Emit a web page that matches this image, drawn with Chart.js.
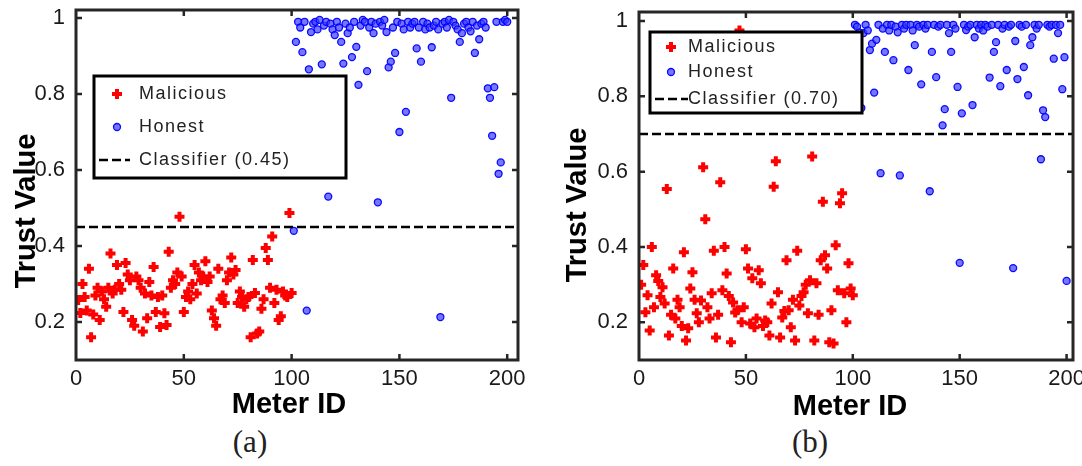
<!DOCTYPE html>
<html>
<head>
<meta charset="utf-8">
<script src="https://cdn.jsdelivr.net/npm/chart.js@4.4.0/dist/chart.umd.min.js"></script>
<style>
  body { margin: 0; background: #fff; width: 1082px; height: 466px; overflow: hidden; position: relative; }
  .panel { position: absolute; top: 0; height: 420px; }
  #wrapA { left: 0; width: 545px; }
  #wrapB { left: 555px; width: 527px; }
  .cap { position: absolute; top: 424px; width: 80px; text-align: center; font-family: "Liberation Serif", "Times New Roman", serif; font-size: 31px; color: #222; }
</style>
</head>
<body>
<div class="panel" id="wrapA"><canvas id="chartA" width="545" height="420"></canvas></div>
<div class="panel" id="wrapB"><canvas id="chartB" width="527" height="420"></canvas></div>
<div class="cap" style="left:210px">(a)</div>
<div class="cap" style="left:770px">(b)</div>
<script>
// tick labels
const xTicks = [0, 50, 100, 150, 200];
const yTicks = [0.2, 0.4, 0.6, 0.8, 1];

// panel (a): meters 1-100 malicious, 101-200 honest
const maliciousA = [
  0.258, 0.224, 0.30, 0.266, 0.23, 0.34, 0.16, 0.22, 0.27, 0.29,
  0.205, 0.28, 0.26, 0.24, 0.29, 0.38, 0.275, 0.285, 0.35, 0.30,
  0.285, 0.226, 0.355, 0.325, 0.31, 0.205, 0.19, 0.32, 0.31, 0.29,
  0.175, 0.275, 0.21, 0.305, 0.27, 0.345, 0.226, 0.266, 0.187, 0.27,
  0.223, 0.192, 0.385, 0.29, 0.31, 0.30, 0.33, 0.477, 0.32, 0.226,
  0.266, 0.28, 0.26, 0.30, 0.35, 0.275, 0.33, 0.31, 0.32, 0.36,
  0.305, 0.32, 0.23, 0.21, 0.19, 0.34, 0.26, 0.27, 0.25, 0.31,
  0.33, 0.37, 0.325, 0.337, 0.25, 0.28, 0.266, 0.24, 0.26, 0.266,
  0.16, 0.363, 0.276, 0.17, 0.175, 0.235, 0.26, 0.395, 0.363, 0.29,
  0.425, 0.25, 0.285, 0.205, 0.215, 0.28, 0.27, 0.266, 0.487, 0.276
];
const honestA = [
  0.44, 0.937, 0.99, 0.975, 0.91, 0.99, 0.23, 0.865, 0.963, 0.985,
  0.99, 0.97, 0.995, 0.878, 0.98, 0.99, 0.53, 0.985, 0.97, 0.955,
  0.99, 0.975, 0.937, 0.88, 0.985, 0.96, 0.975, 0.897, 0.99, 0.924,
  0.824, 0.98, 0.995, 0.99, 0.86, 0.975, 0.99, 0.96, 0.985, 0.515,
  0.99, 0.98, 0.995, 0.963, 0.87, 0.885, 0.975, 0.908, 0.99, 0.70,
  0.985, 0.97, 0.753, 0.99, 0.975, 0.985, 0.99, 0.92, 0.975, 0.885,
  0.99, 0.97, 0.985, 0.975, 0.923, 0.98, 0.99, 0.97, 0.213, 0.985,
  0.99, 0.975, 0.995, 0.79, 0.99, 0.98, 0.97, 0.937, 0.96, 0.985,
  0.99, 0.975, 0.965, 0.99, 0.908, 0.98, 0.944, 0.985, 0.99, 0.975,
  0.815, 0.79, 0.69, 0.818, 0.99, 0.59, 0.62, 0.99, 0.995, 0.99
];

// panel (b)
const maliciousB = [
  0.30, 0.352, 0.227, 0.272, 0.178, 0.40, 0.24, 0.325, 0.31, 0.267,
  0.293, 0.25, 0.554, 0.165, 0.22, 0.343, 0.21, 0.26, 0.24, 0.19,
  0.386, 0.152, 0.184, 0.29, 0.333, 0.26, 0.224, 0.20, 0.258, 0.612,
  0.474, 0.24, 0.21, 0.277, 0.39, 0.16, 0.22, 0.572, 0.285, 0.40,
  0.33, 0.27, 0.147, 0.253, 0.226, 0.232, 0.975, 0.20, 0.24, 0.394,
  0.343, 0.197, 0.317, 0.187, 0.21, 0.338, 0.304, 0.19, 0.205, 0.20,
  0.165, 0.25, 0.56, 0.628, 0.28, 0.16, 0.213, 0.23, 0.365, 0.232,
  0.187, 0.26, 0.152, 0.39, 0.245, 0.27, 0.28, 0.30, 0.224, 0.312,
  0.64, 0.152, 0.304, 0.22, 0.365, 0.52, 0.378, 0.343, 0.147, 0.232,
  0.144, 0.405, 0.285, 0.516, 0.543, 0.277, 0.20, 0.357, 0.29, 0.272
];
const honestB = [
  0.99, 0.985, 0.97, 0.769, 0.968, 0.99, 0.975, 0.923, 0.94, 0.81,
  0.95, 0.99, 0.596, 0.98, 0.918, 0.99, 0.975, 0.99, 0.896, 0.985,
  0.97, 0.59, 0.99, 0.98, 0.99, 0.87, 0.99, 0.975, 0.936, 0.99,
  0.985, 0.832, 0.99, 0.98, 0.99, 0.548, 0.918, 0.99, 0.851, 0.985,
  0.99, 0.723, 0.766, 0.99, 0.968, 0.918, 0.99, 0.98, 0.825, 0.358,
  0.755, 0.99, 0.976, 0.985, 0.99, 0.777, 0.957, 0.99, 0.98, 0.99,
  0.975, 0.99, 0.985, 0.85, 0.99, 0.918, 0.944, 0.99, 0.827, 0.98,
  0.99, 0.87, 0.985, 0.99, 0.344, 0.947, 0.846, 0.99, 0.985, 0.878,
  0.99, 0.803, 0.936, 0.957, 0.99, 0.98, 0.99, 0.633, 0.763, 0.745,
  0.99, 0.985, 0.99, 0.9, 0.99, 0.968, 0.99, 0.819, 0.904, 0.31
];

const thresholdA = 0.45;
const thresholdB = 0.70;

const FONT = '"Liberation Sans", Arial, Helvetica, sans-serif';
const RED = '#ff0000';
const DOT_FILL = 'rgba(60,60,255,0.7)';
const DOT_LINE = 'rgba(0,0,255,0.95)';

function drawCross(ctx, x, y) {
  ctx.save();
  ctx.strokeStyle = RED;
  ctx.lineWidth = 4;
  ctx.beginPath();
  ctx.moveTo(x - 5, y); ctx.lineTo(x + 5, y);
  ctx.moveTo(x, y - 5); ctx.lineTo(x, y + 5);
  ctx.stroke();
  ctx.restore();
}

function drawDot(ctx, x, y) {
  ctx.save();
  ctx.beginPath();
  ctx.arc(x, y, 3.5, 0, Math.PI * 2);
  ctx.fillStyle = DOT_FILL;
  ctx.fill();
  ctx.lineWidth = 1.3;
  ctx.strokeStyle = DOT_LINE;
  ctx.stroke();
  ctx.restore();
}

// frame, inward ticks, legend box and axis titles
const decorPlugin = {
  id: 'decor',
  afterDatasetsDraw(chart, args, o) {
    const { ctx, chartArea: a, scales: { x, y } } = chart;
    ctx.save();
    ctx.strokeStyle = '#262626';
    ctx.lineWidth = 2.5;
    ctx.beginPath();
    xTicks.forEach(v => {
      const px = x.getPixelForValue(v);
      if (px < a.left + 3 || px > a.right - 3) return;
      ctx.moveTo(px, a.bottom); ctx.lineTo(px, a.bottom - 6);
      ctx.moveTo(px, a.top); ctx.lineTo(px, a.top + 6);
    });
    yTicks.forEach(v => {
      const py = y.getPixelForValue(v);
      ctx.moveTo(a.left, py); ctx.lineTo(a.left + 6, py);
      ctx.moveTo(a.right, py); ctx.lineTo(a.right - 6, py);
    });
    ctx.stroke();
    ctx.lineWidth = 3;
    ctx.strokeRect(a.left, a.top, a.right - a.left, a.bottom - a.top);

    // legend
    const L = o.legend;
    ctx.fillStyle = '#fff';
    ctx.fillRect(L.x, L.y, L.w, L.h);
    ctx.strokeStyle = '#000';
    ctx.lineWidth = 3;
    ctx.strokeRect(L.x, L.y, L.w, L.h);
    drawCross(ctx, L.mx, L.rows[0]);
    drawDot(ctx, L.mx, L.rows[1]);
    ctx.beginPath();
    ctx.setLineDash([9, 4]);
    ctx.lineWidth = 2.5;
    ctx.moveTo(L.lx0, L.rows[2]); ctx.lineTo(L.lx1, L.rows[2]);
    ctx.stroke();
    ctx.setLineDash([]);
    ctx.fillStyle = '#222';
    ctx.font = '18px ' + FONT;
    ctx.letterSpacing = '1.5px';
    ctx.textBaseline = 'middle';
    ctx.textAlign = 'left';
    ctx.fillText('Malicious', L.tx, L.rows[0]);
    ctx.fillText('Honest', L.tx, L.rows[1]);
    ctx.fillText('Classifier (' + o.threshold.toFixed(2) + ')', L.tx, L.rows[2]);
    ctx.letterSpacing = '0px';

    // axis titles
    ctx.fillStyle = '#000';
    ctx.font = 'bold 29px ' + FONT;
    ctx.textAlign = 'center';
    ctx.textBaseline = 'alphabetic';
    ctx.fillText('Meter ID', o.xTitle[0], o.xTitle[1]);
    ctx.translate(o.yTitle[0], o.yTitle[1]);
    ctx.rotate(-Math.PI / 2);
    ctx.fillText('Trust Value', 0, 0);
    ctx.restore();
  }
};

function makeChart(id, mal, hon, thr, opt) {
  const malPts = mal.map((v, i) => ({ x: i + 1, y: v }));
  const honPts = hon.map((v, i) => ({ x: i + 101, y: v }));
  return new Chart(document.getElementById(id), {
    type: 'scatter',
    data: {
      datasets: [
        {
          type: 'line',
          label: 'Classifier',
          data: [{ x: 0, y: thr }, { x: opt.xMax, y: thr }],
          borderColor: '#000',
          borderWidth: 2.5,
          borderDash: [9, 4],
          pointRadius: 0,
          fill: false
        },
        {
          label: 'Honest',
          data: honPts,
          pointStyle: 'circle',
          pointRadius: 3.5,
          pointBackgroundColor: DOT_FILL,
          pointBorderColor: DOT_LINE,
          pointBorderWidth: 1.3
        },
        {
          label: 'Malicious',
          data: malPts,
          pointStyle: 'cross',
          pointRadius: 5,
          pointBorderColor: RED,
          pointBorderWidth: 4
        }
      ]
    },
    options: {
      responsive: false,
      animation: false,
      layout: { padding: opt.padding },
      plugins: {
        legend: { display: false },
        tooltip: { enabled: false },
        decor: { legend: opt.legend, threshold: thr, xTitle: opt.xTitle, yTitle: opt.yTitle }
      },
      scales: {
        x: {
          type: 'linear',
          min: 0,
          max: opt.xMax,
          afterBuildTicks: s => { s.ticks = xTicks.map(v => ({ value: v })); },
          afterFit: s => { s.height = 60; s.paddingLeft = 0; s.paddingRight = 0; },
          grid: { display: false, drawTicks: false },
          border: { display: false },
          ticks: { font: { size: 22, family: FONT }, color: '#1a1a1a', padding: 6, maxRotation: 0, autoSkip: false }
        },
        y: {
          min: 0.1,
          max: opt.yMax,
          afterBuildTicks: s => { s.ticks = yTicks.map(v => ({ value: v })); },
          afterFit: s => { s.width = opt.yWidth; s.paddingTop = 0; s.paddingBottom = 0; },
          grid: { display: false, drawTicks: false },
          border: { display: false },
          ticks: { font: { size: 22, family: FONT }, color: '#1a1a1a', padding: 11, callback: v => String(v) }
        }
      }
    },
    plugins: [decorPlugin]
  });
}

makeChart('chartA', maliciousA, honestA, thresholdA, {
  xMax: 205, yMax: 1.021, yWidth: 76,
  padding: { left: 0, top: 10, right: 27, bottom: 0 },
  legend: { x: 94, y: 76, w: 252, h: 102, mx: 117, rows: [94, 127, 160], lx0: 99, lx1: 130, tx: 139 },
  xTitle: [289, 413], yTitle: [35, 211]
});

makeChart('chartB', maliciousB, honestB, thresholdB, {
  xMax: 203, yMax: 1.024, yWidth: 84,
  padding: { left: 0, top: 12, right: 8, bottom: 0 },
  legend: { x: 95, y: 32, w: 212, h: 81, mx: 116, rows: [47, 72, 99], lx0: 100, lx1: 133, tx: 133 },
  xTitle: [295, 415], yTitle: [31, 205]
});
</script>
</body>
</html>
